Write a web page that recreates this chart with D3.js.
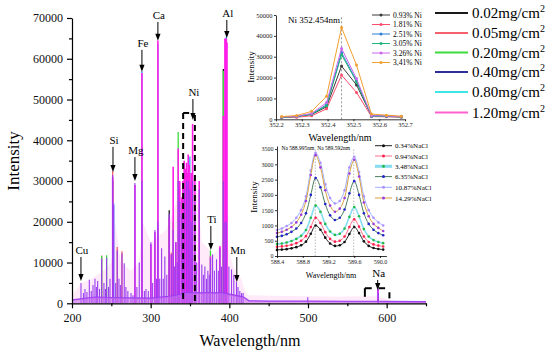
<!DOCTYPE html>
<html>
<head>
<meta charset="utf-8">
<script src="https://d3js.org/d3.v7.min.js"></script>
<style>
  body { margin: 0; background: #fff; }
  svg { font-family: "Liberation Serif", "Times New Roman", serif; }
</style>
</head>
<body>
<div id="chart"></div>
<script>
// ---------- main spectrum data ----------
const concLabels = ["0.02", "0.05", "0.20", "0.40", "0.80", "1.20"];
const concColors = ["#1a1a1a", "#f4606c", "#3ddc3d", "#2e2e96", "#3fe6e6", "#ff5fcf"];

// 0.40 mg/cm2 (drawn violet in the spectrum)
const s040Nm = [211.4, 214.5, 216.5, 219, 222, 224.5, 226.7, 229.2, 231, 232.6, 235, 237.7, 240.6, 242.5, 244.0, 246.5, 248.3,
  251.7, 253.0, 255.5, 257.5, 259.7, 261.5, 263.5, 266.4, 268.5, 271.0, 275.0, 277.5, 280.0, 282.5, 285.5, 288.9, 292, 294.0,
  297, 300.3, 302.5, 305.4, 307.5, 309.2, 311.5, 313.9, 316, 318.0, 320.5, 323.6, 326.3, 328.6, 330.5, 332.0, 333.8, 335.0,
  337.0, 339.7, 341.0, 342.6, 345.6, 347.7, 349.8, 351.5, 353.3, 356.2, 358.5, 361.7, 365.0, 367, 368.9, 371, 372.7, 374.5,
  376.0, 378.7, 381, 383.7, 386, 388.0, 390, 392.4, 394.4, 396.2, 399.4, 402.8, 405.7, 409.1, 411, 413.3, 415.5, 417.5,
  499.7, 588.995, 589.592];
const s040I = [5000, 2500, 3500, 2800, 5800, 3000, 4500, 6000, 4000, 5500, 3500, 11000, 5000, 3500, 11200, 4000, 6000,
  31500, 24000, 5000, 13000, 6000, 4500, 12200, 9800, 4000, 3000, 2500, 2000, 29500, 4000, 10000, 30000, 3000, 3500,
  3000, 15000, 5000, 18000, 6000, 20000, 6000, 13500, 6000, 11500, 7000, 22000, 12000, 18000, 9000, 15000, 10000, 30000,
  25000, 22000, 12000, 28000, 30000, 30000, 28000, 20000, 30000, 25000, 10000, 28000, 9500, 7000, 9000, 6000, 8000, 7000,
  11000, 12000, 8000, 10800, 8000, 13500, 9000, 30000, 20000, 20000, 9000, 8300, 7000, 5300, 4000, 3000, 2500, 2500,
  1500, 3500, 2500];

// 1.20 mg/cm2
const s120Nm = [251.7, 280.0, 288.9, 300.3, 305.4, 309.2, 323.6, 326.3, 328.6, 332, 335, 337.0, 339.7, 341.0, 342.6, 344.2,
  345.6, 347.0, 347.7, 349.0, 349.8, 351.5, 353.3, 356.2, 361.7, 376, 388, 392.4, 394.4, 395.3, 396.2, 397.0, 588.995];
const s120I = [31000, 29000, 56500, 14500, 17500, 64500, 21000, 12000, 33500, 15000, 38000, 30000, 26000, 30000, 35000, 33000,
  34500, 32000, 36500, 34000, 30000, 32000, 44000, 31000, 30000, 11500, 14000, 46000, 65000, 65000, 65000, 64000, 3500];

// lower concentrations: only the lines whose tops rise above the others
const s002Nm = [251.7, 323.6, 392.4];
const s002I = [30000, 22800, 57500];
const s005Nm = [237.7, 251.7, 257.5, 263.5, 326.3];
const s005I = [11700, 32500, 13800, 12800, 12400];
const s020Nm = [237.7, 244.0, 328.6, 335.0, 376.0, 392.4];
const s020I = [11600, 11800, 20000, 42000, 13000, 57000];
const s080Nm = [253.0, 288.9, 309.2, 349.8, 396.2];
const s080I = [24500, 57000, 63500, 36000, 65500];

// continuum
const baseNm = [200, 230, 260, 300, 330, 345, 360, 390, 405, 418, 425, 450, 500, 550, 588, 600, 650];
const baseI = [800, 1500, 1300, 1200, 1800, 2500, 2500, 2500, 2000, 1500, 600, 500, 500, 450, 450, 400, 350];
const hazeNm = [200, 212, 225, 240, 250, 255, 262, 275, 285, 290, 300, 320, 335, 345, 358, 365, 380, 395, 405, 415, 420, 425, 470, 540, 590, 605, 650];
const hazeI = [2000, 5000, 6000, 8000, 10000, 20000, 10000, 8000, 10000, 20000, 15000, 18000, 26000, 32000, 30000, 15000, 12000, 16000, 9000, 6000, 3000, 2000, 1800, 1600, 1800, 600, 0];

// element markers
const elemName = ["Cu", "Si", "Mg", "Fe", "Ca", "Ni", "Al", "Ti", "Mn", "Na"];
const elemNm = [211.4, 252.1, 280.0, 288.9, 309.2, 353.7, 396.8, 376.5, 409.5, 588.6];
const elemLabelI = [13080, 40100, 37600, 63900, 70750, 51850, 71240, 20700, 13080, 7440];
const elemTipI = [5470, 32200, 30000, 56800, 64400, 45000, 65100, 13080, 5230, 3260];

// ---------- Ni inset data ----------
const niNm = [352.222, 352.280, 352.338, 352.396, 352.454, 352.512, 352.570, 352.628, 352.686];
const niLabels = ["0.93% Ni", "1.81% Ni", "2.51% Ni", "3.05% Ni", "3.26% Ni", "3,41% Ni"];
const niColors = ["#3a3a3a", "#ff4d6d", "#2a7fd4", "#1fb37a", "#cc66ee", "#f0a030"];
const ni093 = [1000, 1300, 2300, 6000, 25500, 16500, 1600, 1500, 1200];
const ni181 = [800, 1000, 1700, 5000, 21200, 12900, 1300, 1200, 1000];
const ni251 = [1000, 1400, 2500, 7000, 32000, 18500, 1600, 1500, 1200];
const ni305 = [1000, 1300, 2400, 6500, 31000, 18000, 1500, 1400, 1100];
const ni326 = [1100, 1500, 2800, 8000, 34000, 19500, 1700, 1600, 1300];
const ni341 = [1300, 1800, 3800, 11000, 44000, 26000, 2500, 2000, 1500];

// ---------- Na inset data ----------
const naNm = [588.400, 588.475, 588.550, 588.625, 588.700, 588.775, 588.850, 588.925, 589.000, 589.075, 589.150, 589.225,
  589.300, 589.375, 589.450, 589.525, 589.600, 589.675, 589.750, 589.825, 589.900, 589.975, 590.050];
const naLabels = ["0.34%NaCl", "0.94%NaCl", "3.48%NaCl", "6.35%NaCl", "10.87%NaCl", "14.29%NaCl"];
const naLine = ["#222222", "#ff6e8a", "#86dcf0", "#4c7c5c", "#9fb0ff", "#d9a040"];
const naDot = ["#111111", "#ff2250", "#22bb44", "#2222cc", "#b090ff", "#9a3ce0"];
const na034 = [200, 210, 225, 250, 290, 350, 470, 730, 1000, 860, 600, 410, 330, 350, 460, 720, 950, 750, 480, 330, 260, 230, 210];
const na094 = [300, 315, 335, 370, 420, 500, 650, 950, 1250, 1080, 780, 560, 470, 500, 640, 950, 1200, 960, 640, 460, 380, 340, 310];
const na348 = [390, 410, 440, 490, 560, 660, 850, 1250, 1650, 1450, 1050, 800, 690, 730, 900, 1280, 1600, 1300, 880, 640, 520, 460, 420];
const na635 = [630, 660, 710, 790, 900, 1080, 1400, 2000, 2550, 2250, 1700, 1330, 1180, 1250, 1520, 2050, 2450, 2000, 1400, 1050, 860, 750, 680];
const na1087 = [850, 900, 980, 1080, 1250, 1500, 1950, 2800, 3380, 3050, 2350, 1900, 1720, 1800, 2150, 2900, 3250, 2750, 1950, 1500, 1250, 1100, 1000];
const na1429 = [750, 790, 860, 950, 1100, 1350, 1800, 2650, 3300, 2900, 2150, 1650, 1450, 1550, 1900, 2700, 3150, 2600, 1750, 1300, 1050, 920, 820];

// ---------- drawing ----------
const svg = d3.select("#chart").append("svg").attr("width", 550).attr("height", 352);

const x = d3.scaleLinear().domain([200, 650]).range([72, 426]);
const y = d3.scaleLinear().domain([0, 70000]).range([303.3, 18]);

svg.append("path")
  .datum(d3.zip(hazeNm, hazeI))
  .attr("d", d3.area().x(d => x(d[0])).y0(y(0)).y1(d => y(d[1])))
  .attr("fill", "#feeaf8");

function drawLines(nm, vals, color, w) {
  svg.append("g").selectAll("line")
    .data(d3.zip(nm, vals))
    .join("line")
      .attr("x1", d => x(d[0])).attr("x2", d => x(d[0]))
      .attr("y1", y(0)).attr("y2", d => y(d[1]))
      .attr("stroke", color).attr("stroke-width", w);
}
drawLines(s002Nm, s002I, concColors[0], 1.3);
drawLines(s005Nm, s005I, concColors[1], 1.3);
drawLines(s020Nm, s020I, concColors[2], 1.3);
drawLines(s080Nm, s080I, "#3aa0f0", 1.3);
drawLines(s120Nm, s120I, "#ff1ee8", 1.6);
drawLines(s040Nm, s040I, "#9a3cf0", 1.1);

svg.append("path")
  .datum(d3.zip(baseNm, baseI))
  .attr("d", d3.line().x(d => x(d[0])).y(d => y(d[1])))
  .attr("fill", "none").attr("stroke", "#9a3cf0").attr("stroke-width", 1.6);
svg.append("path")
  .datum(d3.zip(baseNm, baseI))
  .attr("d", d3.area().x(d => x(d[0])).y0(y(0)).y1(d => y(d[1])))
  .attr("fill", "#c86ef0").attr("opacity", 0.6);

// axes
const xMajor = [200, 300, 400, 500, 600], xMinor = [250, 350, 450, 550, 650];
const yMajor = d3.range(0, 70001, 10000), yMinor = d3.range(5000, 70000, 10000);

const gx = svg.append("g").attr("transform", `translate(0,${y(0)})`)
  .call(d3.axisBottom(x).tickValues(xMajor).tickSize(5).tickSizeOuter(0).tickPadding(5).tickFormat(d3.format("d")));
svg.append("g").attr("transform", `translate(0,${y(0)})`)
  .call(d3.axisBottom(x).tickValues(xMinor).tickSize(3).tickSizeOuter(0).tickFormat(""))
  .select(".domain").remove();
const gy = svg.append("g").attr("transform", `translate(${x(200)},0)`)
  .call(d3.axisLeft(y).tickValues(yMajor).tickSize(5).tickSizeOuter(0).tickPadding(4).tickFormat(d3.format("d")));
svg.append("g").attr("transform", `translate(${x(200)},0)`)
  .call(d3.axisLeft(y).tickValues(yMinor).tickSize(3).tickSizeOuter(0).tickFormat(""))
  .select(".domain").remove();
svg.selectAll(".domain, .tick line").attr("stroke", "#000").attr("stroke-width", 1.2);
[gx, gy].forEach(g => g.selectAll("text").attr("font-size", 12).attr("font-family", "Liberation Serif").attr("fill", "#111"));

svg.append("text").attr("transform", "rotate(-90)").attr("x", -161).attr("y", 19)
  .attr("text-anchor", "middle").attr("font-size", 17).text("Intensity");
svg.append("text").attr("x", 250).attr("y", 346)
  .attr("text-anchor", "middle").attr("font-size", 16).text("Wavelength/nm");

// element arrows
elemName.forEach((n, i) => {
  const ex = x(elemNm[i]), ly = y(elemLabelI[i]), ty = y(elemTipI[i]);
  svg.append("text").attr("x", ex + 1).attr("y", ly + 4).attr("text-anchor", "middle")
    .attr("font-size", 11).text(n);
  svg.append("line").attr("x1", ex).attr("x2", ex).attr("y1", ly + 7).attr("y2", ty - 5)
    .attr("stroke", "#000").attr("stroke-width", 1);
  svg.append("path").attr("d", `M${ex - 2.6},${ty - 7}L${ex + 2.6},${ty - 7}L${ex},${ty}Z`).attr("fill", "#000");
});

// dashed zoom brackets
const dash = (x1, y1, x2, y2) => svg.append("line").attr("x1", x1).attr("y1", y1).attr("x2", x2).attr("y2", y2)
  .attr("stroke", "#000").attr("stroke-width", 2).attr("stroke-dasharray", "6,4");
dash(x(341.3), y(46700), x(341.3), y(500));
dash(x(341.3), y(46700), x(350.0), y(46700));
dash(x(356.2), y(46200), x(356.2), y(500));
const solid = (x1, y1, x2, y2) => svg.append("line").attr("x1", x1).attr("y1", y1).attr("x2", x2).attr("y2", y2)
  .attr("stroke", "#000").attr("stroke-width", 2);
solid(x(572.3), y(3700), x(572.3), y(1600));
solid(x(572.3), y(3700), x(581), y(3700));
solid(x(589.6), y(3700), x(598), y(3700));
solid(x(603.5), y(2700), x(603.5), y(1200));

// main legend
const legY = [13, 33, 52.5, 72, 92, 112.5];
concLabels.forEach((c, i) => {
  svg.append("line").attr("x1", 435).attr("x2", 468).attr("y1", legY[i]).attr("y2", legY[i])
    .attr("stroke", concColors[i]).attr("stroke-width", 2);
  const t = svg.append("text").attr("x", 472).attr("y", legY[i] + 5).attr("font-size", 15);
  t.append("tspan").text(c + "mg/cm");
  t.append("tspan").attr("font-size", 10).attr("dy", -6).text("2");
});

// ---------- Ni inset ----------
const xn = d3.scaleLinear().domain([352.2, 352.7]).range([276, 405]);
const yn = d3.scaleLinear().domain([0, 50000]).range([119.3, 15]);
svg.append("line").attr("x1", xn(352.454)).attr("x2", xn(352.454)).attr("y1", yn(0)).attr("y2", yn(50000) + 2)
  .attr("stroke", "#999").attr("stroke-width", 1).attr("stroke-dasharray", "2,2");
const niSeries = [ni093, ni181, ni251, ni305, ni326, ni341];
niSeries.forEach((s, i) => {
  svg.append("path").datum(d3.zip(niNm, s))
    .attr("d", d3.line().x(d => xn(d[0])).y(d => yn(d[1])))
    .attr("fill", "none").attr("stroke", niColors[i]).attr("stroke-width", 1);
  svg.append("g").selectAll("circle").data(d3.zip(niNm, s)).join("circle")
    .attr("cx", d => xn(d[0])).attr("cy", d => yn(d[1])).attr("r", 1.5).attr("fill", niColors[i]);
});
const gnx = svg.append("g").attr("transform", `translate(0,${yn(0)})`)
  .call(d3.axisBottom(xn).tickValues([352.2, 352.3, 352.4, 352.5, 352.6, 352.7]).tickSize(2).tickSizeOuter(0).tickPadding(1.5).tickFormat(d3.format(".1f")));
const gny = svg.append("g").attr("transform", `translate(${xn(352.2)},0)`)
  .call(d3.axisLeft(yn).tickValues(d3.range(0, 50001, 10000)).tickSize(2).tickSizeOuter(0).tickPadding(1.5).tickFormat(d3.format("d")));
[gnx, gny].forEach(g => {
  g.selectAll("text").attr("font-size", 6.5).attr("font-family", "Liberation Serif").attr("fill", "#222");
  g.selectAll(".domain, .tick line").attr("stroke", "#000").attr("stroke-width", 0.8);
});
svg.append("text").attr("x", 340).attr("y", 23).attr("text-anchor", "end").attr("font-size", 9).text("Ni 352.454nm");
svg.append("text").attr("transform", "rotate(-90)").attr("x", -67).attr("y", 254)
  .attr("text-anchor", "middle").attr("font-size", 9).text("Intensity");
svg.append("text").attr("x", 340).attr("y", 141).attr("text-anchor", "middle").attr("font-size", 10).text("Wavelength/nm");
const niLegY = [15, 24.5, 34, 43.5, 53, 62.5];
niLabels.forEach((l, i) => {
  svg.append("line").attr("x1", 372).attr("x2", 390).attr("y1", niLegY[i]).attr("y2", niLegY[i])
    .attr("stroke", niColors[i]).attr("stroke-width", 1);
  svg.append("circle").attr("cx", 381).attr("cy", niLegY[i]).attr("r", 1.5).attr("fill", niColors[i]);
  svg.append("text").attr("x", 393).attr("y", niLegY[i] + 2.5).attr("font-size", 7.5).text(l);
});

// ---------- Na inset ----------
const xa = d3.scaleLinear().domain([588.4, 590.1]).range([277, 386.4]);
const ya = d3.scaleLinear().domain([0, 3600]).range([256, 146]);
[588.995, 589.592].forEach(p => {
  svg.append("line").attr("x1", xa(p)).attr("x2", xa(p)).attr("y1", ya(0)).attr("y2", ya(3500))
    .attr("stroke", "#aaa").attr("stroke-width", 0.8).attr("stroke-dasharray", "1.5,1.5");
});
const naSeries = [na034, na094, na348, na635, na1087, na1429];
naSeries.forEach((s, i) => {
  svg.append("path").datum(d3.zip(naNm, s))
    .attr("d", d3.line().curve(d3.curveCatmullRom).x(d => xa(d[0])).y(d => ya(d[1])))
    .attr("fill", "none").attr("stroke", naLine[i]).attr("stroke-width", i === 2 ? 1.6 : 1);
  svg.append("g").selectAll("circle").data(d3.zip(naNm, s)).join("circle")
    .attr("cx", d => xa(d[0])).attr("cy", d => ya(d[1])).attr("r", 1.3).attr("fill", naDot[i]);
});
const gax = svg.append("g").attr("transform", `translate(0,${ya(0)})`)
  .call(d3.axisBottom(xa).tickValues([588.4, 588.8, 589.2, 589.6, 590.0]).tickSize(2).tickSizeOuter(0).tickPadding(1.5).tickFormat(d3.format(".1f")));
const gay = svg.append("g").attr("transform", `translate(${xa(588.4)},0)`)
  .call(d3.axisLeft(ya).tickValues(d3.range(0, 3501, 500)).tickSize(2).tickSizeOuter(0).tickPadding(1.5).tickFormat(d3.format("d")));
[gax, gay].forEach(g => {
  g.selectAll("text").attr("font-size", 6).attr("font-family", "Liberation Serif").attr("fill", "#222");
  g.selectAll(".domain, .tick line").attr("stroke", "#000").attr("stroke-width", 0.8);
});
svg.append("text").attr("x", xa(588.995) - 1).attr("y", 150).attr("text-anchor", "end").attr("font-size", 5.5).text("Na 588.995nm");
svg.append("text").attr("x", xa(588.995) + 2).attr("y", 150).attr("text-anchor", "start").attr("font-size", 5.5).text("Na 589.592nm");
svg.append("text").attr("transform", "rotate(-90)").attr("x", -197).attr("y", 257)
  .attr("text-anchor", "middle").attr("font-size", 9).text("Intensity");
svg.append("text").attr("x", 331).attr("y", 278).attr("text-anchor", "middle").attr("font-size", 8).text("Wavelength/nm");
const naLegY = [145.7, 156, 166.3, 176.6, 187.3, 198];
naLabels.forEach((l, i) => {
  svg.append("line").attr("x1", 375).attr("x2", 392).attr("y1", naLegY[i]).attr("y2", naLegY[i])
    .attr("stroke", naLine[i]).attr("stroke-width", i === 2 ? 3 : 1);
  svg.append("circle").attr("cx", 383.5).attr("cy", naLegY[i]).attr("r", 1.5).attr("fill", naDot[i]);
  svg.append("text").attr("x", 395).attr("y", naLegY[i] + 2.5).attr("font-size", 7).text(l);
});
</script>
</body>
</html>
